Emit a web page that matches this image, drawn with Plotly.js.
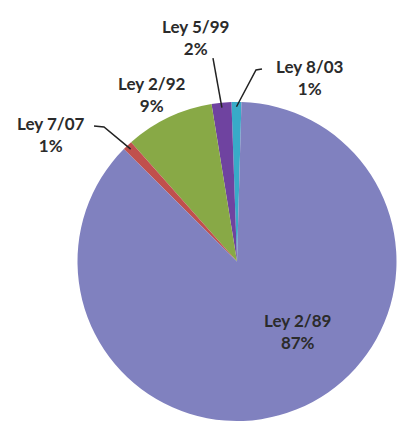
<!DOCTYPE html>
<html><head><meta charset="utf-8">
<script src="https://cdn.plot.ly/plotly-3.0.1.min.js"></script>
<style>html,body{margin:0;padding:0;background:#fff}</style>
</head><body>
<div id="chart" style="width:407px;height:421px"></div>
<script>
var labels = ["Ley 8/03", "Ley 5/99", "Ley 2/92", "Ley 7/07", "Ley 2/89"];
var values = [1, 2, 9, 1, 87];
var colors = ["#38abc8", "#6f43a0", "#88a946", "#c0504d", "#8081bf"];

// label placement (pixels in 407x421 canvas) and leader-line start points
var labelPos = [[310, 78], [195, 38], [152, 95], [51, 135], [297, 331]];
var leaderStart = [[[262, 69], [256, 70]], [[213, 58]], null, [[94, 126], [104, 127]], null];

var W = 407, H = 421;
var ROT = -2;
var dom = {x: [77 / W, 397 / W], y: [0, (H - 102) / H]};
var cx = 237, cy = 261.5, R = 159.5;
var total = values.reduce(function (a, b) { return a + b; }, 0);

function px(x) { return x / W; }
function py(y) { return 1 - y / H; }

var annotations = [], shapes = [];
var startDeg = ROT + 360 * values[0] / total; // plotly counterclockwise: first slice ends at rotation
var cum = 0;
values.forEach(function (v, i) {
  var midDeg = startDeg - 360 * (cum + v / 2) / total;
  cum += v;
  var mid = midDeg * Math.PI / 180;
  var pct = Math.round(v / total * 100) + "%";
  annotations.push({
    xref: "paper", yref: "paper",
    x: px(labelPos[i][0]), y: py(labelPos[i][1]),
    text: labels[i] + "<br>" + pct,
    showarrow: false,
    xanchor: "center", yanchor: "middle",
    font: {family: "Lato, 'Open Sans', sans-serif", size: 17, color: "#2b2b2b", weight: "bold"}
  });
  if (leaderStart[i]) {
    var tipX = cx + R * 0.97 * Math.sin(mid);
    var tipY = cy - R * 0.97 * Math.cos(mid);
    var pts = leaderStart[i].concat([[tipX, tipY]]);
    var path = pts.map(function (p, k) {
      return (k ? "L" : "M") + px(p[0]).toFixed(4) + "," + py(p[1]).toFixed(4);
    }).join(" ");
    shapes.push({type: "path", xref: "paper", yref: "paper", path: path,
      line: {color: "#222", width: 1.5}});
  }
});

var trace = {
  type: "pie",
  labels: labels,
  values: values,
  sort: false,
  direction: "counterclockwise",
  rotation: ROT,
  marker: {colors: colors, line: {width: 0}},
  textinfo: "none",
  domain: dom,
  showlegend: false,
  hoverinfo: "none"
};
Plotly.newPlot("chart", [trace], {
  width: W, height: H,
  margin: {l: 0, r: 0, t: 0, b: 0},
  paper_bgcolor: "#fff",
  showlegend: false,
  annotations: annotations,
  shapes: shapes
}, {displayModeBar: false, staticPlot: true});
</script>
</body></html>
